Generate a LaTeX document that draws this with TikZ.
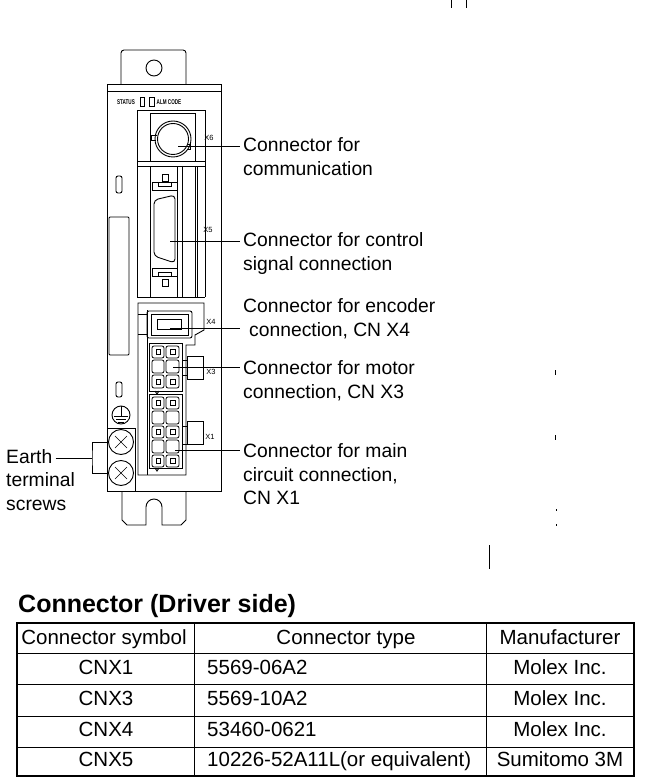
\documentclass[tikz,border=0pt]{standalone}
\usepackage{fontspec}
\setmainfont{Liberation Sans}
\tikzset{
  part/.style={black, line width=0.9pt},
  thin part/.style={black, line width=0.6pt},
  slotbox/.style={black, line width=0.8pt, rounded corners=2pt},
  lead/.style={black, line width=0.8pt},
  caption/.style={anchor=west, inner sep=3pt, text height=13pt, text depth=4pt, font=\fontsize{19.3}{23}\selectfont},
  cell/.style={inner sep=0pt, text height=13pt, text depth=4pt, font=\fontsize{20.5}{24}\selectfont},
  tiny tag/.style={inner sep=0pt, font=\fontsize{7.5}{8}\selectfont},
  status tag/.style={inner sep=0pt, yscale=1.5, transform shape, font=\fontsize{4.6}{5}\selectfont\bfseries},
  screw/.style={circle, draw, line width=0.9pt, minimum size=25pt, inner sep=0pt}
}
\begin{document}
\begin{tikzpicture}[x=1pt, y=-1pt]
\useasboundingbox (0,0) rectangle (656,783);
% stray marks of the scan
\draw[part] (451,0) -- (451,8);
\draw[part] (466,0) -- (466,8);
\draw[thin part] (489,545) -- (489,569);
\draw[thin part] (555,370) -- (555,375);
\draw[thin part] (555,435) -- (555,440);
\draw[thin part] (556,509) -- (556,511);
\draw[thin part] (556,524) -- (556,526);
% body
\draw[part, rounded corners=3pt] (121,84) -- (121,50) -- (186,50) -- (186,84);
\draw[part] (154,68) circle (8);
\draw[part] (107,84) rectangle (221,491);
\draw[part] (107,91) -- (221,91);
\draw[part] (122,491) -- (122,520) -- (127,525) -- (146,525) -- (146,507) arc (180:360:8) -- (162,525) -- (181,525) -- (186,520) -- (186,491);
% status row
\node[status tag] (status) at (126,102) {STATUS};
\draw[thin part] (140,97) rectangle (144,106);
\draw[thin part] (149,97) rectangle (154,106);
\node[status tag] (almcode) at (169,102) {ALM CODE};
% left side slots
\draw[part, rounded corners=2pt] (116,176) rectangle (122,193);
\draw[part, rounded corners=1pt] (109,217) rectangle (129,355);
\draw[part, rounded corners=2pt] (116,382) rectangle (122,397);
\draw[part] (121,415) circle (9);
\draw[thin part] (121,406) -- (121,416);
\draw[thin part] (114,416) -- (128,416);
\draw[thin part] (116,419) -- (126,419);
\draw[thin part] (118,422) -- (124,422);
% upper panel
\draw[part] (137,297) -- (137,110) -- (205,110) -- (205,297);
\draw[part] (137,297) -- (205,297);
\draw[part] (150,113) rectangle (195,161);
\draw[part] (137,161) -- (150,161);
\draw[part] (195,161) -- (205,161);
\draw[part] (137,166) -- (205,166);
\draw[part] (150,166) rectangle (177,297);
\draw[part] (182,166) -- (182,297);
\draw[part] (195,166) -- (195,297);
\draw[part] (197,166) -- (197,297);
% X6
\draw[part] (173,139) circle (18);
\draw[part] (173,139) circle (15.5);
\draw[part] (157,135) -- (151,135) -- (151,140) -- (156,140);
\draw[part] (187,149) -- (190,149) -- (190,144) -- (188,144);
\coordinate (pinsix) at (178,146);
\node[tiny tag] (tagsix) at (209,138) {X6};
% X5
\draw[part] (162,174) rectangle (168,181);
\draw[part] (152,182) rectangle (177,190);
\draw[part] (158,182) -- (158,186) -- (171,186) -- (171,182);
\draw[part, rounded corners=4pt] (154,200) -- (175,195) -- (175,263) -- (154,256) -- cycle;
\draw[part] (152,268) rectangle (177,276);
\draw[part] (158,276) -- (158,272) -- (171,272) -- (171,276);
\draw[part] (162,279) rectangle (168,286);
\coordinate (pinfive) at (170,241);
\node[tiny tag] (tagfive) at (208,230) {X5};
% lower panel
\draw[part] (147,303) -- (138,303) -- (138,475) -- (186,475) -- (186,345) -- (195,345) -- (195,335) -- (204,330) -- (204,303) -- cycle;
\draw[part] (147,310) -- (147,475);
\draw[part] (138,314) -- (147,314);
\draw[part] (138,334) -- (147,334);
% X4
\draw[part, rounded corners=2pt] (147,311) rectangle (192,338);
\draw[part] (151,314) rectangle (188,335);
\draw[part] (157,319) rectangle (181,329);
\coordinate (pinfour) at (170,328);
\node[tiny tag] (tagfour) at (211,322) {X4};
% X3
\draw[part] (149,343) rectangle (182,391);
\draw[part] (155,391) -- (157,394) -- (159,391);
\draw[slotbox] (152,346) rectangle (164,358);
\draw[slotbox] (166,346) rectangle (179,358);
\draw[slotbox] (152,360) rectangle (164,373);
\draw[slotbox] (166,360) rectangle (179,373);
\draw[slotbox] (152,375) rectangle (164,388);
\draw[slotbox] (166,375) rectangle (179,388);
\draw[thin part] (156,349) rectangle (160,354);
\draw[thin part] (170,349) rectangle (175,354);
\draw[thin part] (156,379) rectangle (160,384);
\draw[thin part] (170,379) rectangle (175,384);
\draw[part] (187,356) rectangle (203,379);
\draw[part] (182,360) -- (187,360);
\draw[part] (182,375) -- (187,375);
\coordinate (pinthree) at (173,367);
\node[tiny tag] (tagthree) at (211,372) {X3};
% X1
\draw[part] (149,394) rectangle (182,468);
\draw[part] (155,468) -- (157,471) -- (159,468);
\draw[slotbox] (152,397) rectangle (164,409);
\draw[slotbox] (166,397) rectangle (179,409);
\draw[slotbox] (152,411) rectangle (164,424);
\draw[slotbox] (166,411) rectangle (179,424);
\draw[slotbox] (152,426) rectangle (164,438);
\draw[slotbox] (166,426) rectangle (179,438);
\draw[slotbox] (152,440) rectangle (164,453);
\draw[slotbox] (166,440) rectangle (179,453);
\draw[slotbox] (152,455) rectangle (164,467);
\draw[slotbox] (166,455) rectangle (179,467);
\draw[thin part] (156,400) rectangle (160,405);
\draw[thin part] (170,400) rectangle (175,405);
\draw[thin part] (156,429) rectangle (160,434);
\draw[thin part] (170,429) rectangle (175,434);
\draw[thin part] (156,458) rectangle (160,463);
\draw[thin part] (170,458) rectangle (175,463);
\draw[part] (187,421) rectangle (203,444);
\draw[part] (182,426) -- (187,426);
\draw[part] (182,444) -- (187,444);
\coordinate (pinone) at (175,450);
\node[tiny tag] (tagone) at (210,437) {X1};
% earth screws
\draw[part] (107,428) -- (135,428) -- (135,491);
\node[screw] (screwa) at (121,442) {};
\node[screw] (screwb) at (121,473) {};
\draw[thin part] (115,436) -- (127,448);
\draw[thin part] (127,436) -- (115,448);
\draw[thin part] (115,467) -- (127,479);
\draw[thin part] (127,467) -- (115,479);
\coordinate (brk) at (92,458);
\draw[lead] (screwa.west) -| (brk) |- (screwb.west);
% captions
\node[caption] (sixa) at (240,147) {Connector for};
\node[caption] (sixb) at (240,171) {communication};
\node[caption] (fivea) at (240,242) {Connector for control};
\node[caption] (fiveb) at (240,266) {signal connection};
\node[caption] (foura) at (240,308) {Connector for encoder};
\node[caption] (fourb) at (246,332) {connection, CN X4};
\node[caption] (threea) at (240,370) {Connector for motor};
\node[caption] (threeb) at (240,394) {connection, CN X3};
\node[caption] (onea) at (240,453) {Connector for main};
\node[caption] (oneb) at (240,477) {circuit connection,};
\node[caption] (onec) at (240,500) {CN X1};
\node[caption] (eartha) at (3,459) {Earth};
\node[caption] (earthb) at (3,482) {terminal};
\node[caption] (earthc) at (3,506) {screws};
\draw[lead] (pinsix) -- (pinsix -| sixa.west);
\draw[lead] (pinfive) -- (pinfive -| fivea.west);
\draw[lead] (pinfour) -- (pinfour -| sixa.west);
\draw[lead] (pinthree) -- (pinthree -| threea.west);
\draw[lead] (pinone) -- (pinone -| onea.west);
\draw[lead] (brk -| eartha.east) -- (brk);
% table
\node[anchor=base west, inner sep=0pt, font=\fontsize{25}{29}\selectfont\bfseries] (title) at (18,612) {Connector (Driver side)};
\draw[black, line width=1.6pt] (17,623) rectangle (634,776);
\draw[lead] (17,653) -- (634,653);
\draw[lead] (17,684) -- (634,684);
\draw[lead] (17,716) -- (634,716);
\draw[lead] (17,747) -- (634,747);
\draw[lead] (194,623) -- (194,776);
\draw[lead] (486,623) -- (486,776);
\node[cell] (hsym) at (104,640) {Connector symbol};
\node[cell] (htyp) at (346,640) {Connector type};
\node[cell] (hman) at (560,640) {Manufacturer};
\node[cell] (symone) at (106,670) {CNX1};
\node[cell, anchor=west] (typone) at (207,670) {5569-06A2};
\node[cell] (manone) at (560,670) {Molex Inc.};
\node[cell] (symthree) at (106,701) {CNX3};
\node[cell, anchor=west] (typthree) at (207,701) {5569-10A2};
\node[cell] (manthree) at (560,701) {Molex Inc.};
\node[cell] (symfour) at (106,732) {CNX4};
\node[cell, anchor=west] (typfour) at (207,732) {53460-0621};
\node[cell] (manfour) at (560,732) {Molex Inc.};
\node[cell] (symfive) at (106,762) {CNX5};
\node[cell, anchor=west] (typfive) at (207,762) {10226-52A11L(or equivalent)};
\node[cell] (manfive) at (560,762) {Sumitomo 3M};
\end{tikzpicture}
\end{document}
